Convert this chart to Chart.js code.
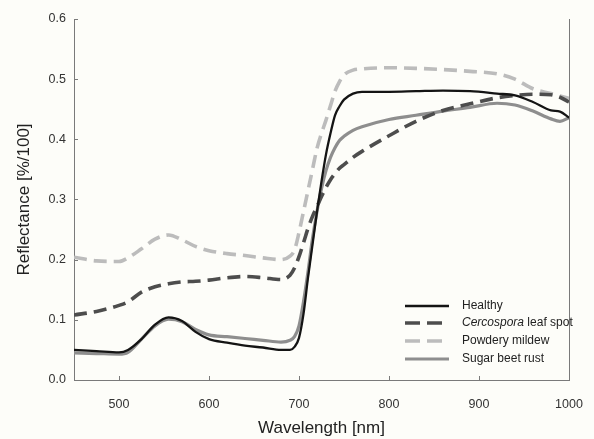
<!DOCTYPE html>
<html>
<head>
<meta charset="utf-8">
<script src="https://cdn.jsdelivr.net/npm/chart.js@4/dist/chart.umd.min.js"></script>
<style>
    html, body { margin: 0; padding: 0; background: #fdfdf9; }
    #wrap { width: 594px; height: 439px; }
</style>
</head>
<body>
<div id="wrap"><canvas id="chart" width="594" height="439"></canvas></div>
<script>
// Wavelength grid [nm]
const wavelengths = [450, 475, 500, 510, 525, 540, 555, 570, 585, 600, 620, 640, 660, 680, 690, 695,
    700, 705, 710, 715, 720, 725, 730, 735, 740, 745, 750, 760, 770, 800, 830, 860, 890, 920, 940, 960, 980, 990, 1000];

// Reflectance [%/100]
const healthy = [0.050, 0.048, 0.046, 0.050, 0.068, 0.092, 0.104, 0.098, 0.080, 0.068, 0.062, 0.057, 0.054, 0.050, 0.050, 0.055,
    0.070, 0.110, 0.170, 0.225, 0.280, 0.330, 0.375, 0.410, 0.440, 0.455, 0.466, 0.476, 0.479, 0.479, 0.480, 0.481, 0.480, 0.476, 0.473, 0.462, 0.448, 0.446, 0.436];
const cercospora = [0.108, 0.114, 0.124, 0.130, 0.146, 0.155, 0.160, 0.163, 0.164, 0.166, 0.170, 0.172, 0.170, 0.167, 0.174, 0.186,
    0.205, 0.228, 0.252, 0.272, 0.288, 0.305, 0.320, 0.333, 0.343, 0.352, 0.358, 0.370, 0.380, 0.406, 0.430, 0.448, 0.459, 0.469, 0.473, 0.475, 0.474, 0.470, 0.462];
const powderyMildew = [0.204, 0.198, 0.197, 0.203, 0.218, 0.234, 0.241, 0.233, 0.222, 0.215, 0.210, 0.207, 0.203, 0.200, 0.206, 0.216,
    0.245, 0.280, 0.315, 0.350, 0.385, 0.410, 0.432, 0.456, 0.480, 0.496, 0.507, 0.515, 0.517, 0.519, 0.518, 0.516, 0.513, 0.509, 0.500, 0.484, 0.476, 0.472, 0.468];
const beetRust = [0.045, 0.044, 0.043, 0.046, 0.068, 0.090, 0.101, 0.097, 0.084, 0.075, 0.072, 0.069, 0.066, 0.063, 0.066, 0.072,
    0.090, 0.130, 0.180, 0.235, 0.280, 0.318, 0.348, 0.370, 0.386, 0.398, 0.405, 0.415, 0.421, 0.433, 0.440, 0.447, 0.453, 0.460, 0.457, 0.447, 0.434, 0.430, 0.436];

const xTicks = [500, 600, 700, 800, 900, 1000];
const seriesLabels = ['Healthy', 'Cercospora leaf spot', 'Powdery mildew', 'Sugar beet rust'];

const FONT = '"Liberation Sans", Arial, sans-serif';
const axisColor = '#7a7a7a';

function points(values) {
    return wavelengths.map((w, i) => ({ x: w, y: values[i] }));
}

const styles = [
    { color: '#141414', width: 2.3, dash: [] },
    { color: '#4d4d4d', width: 3.6, dash: [13, 7] },
    { color: '#bcbcbc', width: 3.6, dash: [13, 7] },
    { color: '#8e8e8e', width: 3.2, dash: [] }
];

const seriesData = [healthy, cercospora, powderyMildew, beetRust];

// Inside ticks, right frame and legend
const decorPlugin = {
    id: 'decor',
    afterDraw(chart) {
        const ctx = chart.ctx;
        const area = chart.chartArea;
        const xs = chart.scales.x;
        const ys = chart.scales.y;
        ctx.save();
        ctx.strokeStyle = axisColor;
        ctx.lineWidth = 1;
        ctx.beginPath();
        ctx.moveTo(area.right + 0.5, area.top);
        ctx.lineTo(area.right + 0.5, area.bottom);
        xTicks.forEach(v => {
            const px = Math.round(xs.getPixelForValue(v)) + 0.5;
            ctx.moveTo(px, area.bottom);
            ctx.lineTo(px, area.bottom - 4);
        });
        for (let v = 0.1; v < 0.65; v += 0.1) {
            const py = Math.round(ys.getPixelForValue(v)) + 0.5;
            ctx.moveTo(area.left, py);
            ctx.lineTo(area.left + 4, py);
        }
        ctx.stroke();

        // legend
        const lx = 405, lLen = 44, tx = 462;
        const rows = [306, 323, 341, 359];
        ctx.font = '12px ' + FONT;
        ctx.textBaseline = 'middle';
        ctx.fillStyle = '#222';
        rows.forEach((ry, i) => {
            const s = styles[i];
            ctx.strokeStyle = s.color;
            ctx.lineWidth = s.width;
            ctx.setLineDash(s.dash.length ? [15, 7] : []);
            ctx.beginPath();
            ctx.moveTo(lx, ry);
            ctx.lineTo(lx + lLen, ry);
            ctx.stroke();
            ctx.setLineDash([]);
            if (i === 1) {
                ctx.font = 'italic 12px ' + FONT;
                ctx.fillText('Cercospora', tx, ry);
                const w = ctx.measureText('Cercospora').width;
                ctx.font = '12px ' + FONT;
                ctx.fillText(' leaf spot', tx + w, ry);
            } else {
                ctx.fillText(seriesLabels[i], tx, ry);
            }
        });
        ctx.restore();
    }
};

const chart = new Chart(document.getElementById('chart'), {
    type: 'line',
    data: {
        datasets: seriesData.map((vals, i) => ({
            label: seriesLabels[i],
            data: points(vals),
            borderColor: styles[i].color,
            borderWidth: styles[i].width,
            borderDash: styles[i].dash,
            pointRadius: 0,
            fill: false,
            cubicInterpolationMode: 'monotone'
        }))
    },
    options: {
        responsive: false,
        animation: false,
        layout: { padding: { top: 19, right: 25, left: 0, bottom: 0 } },
        plugins: { legend: { display: false }, tooltip: { enabled: false } },
        scales: {
            x: {
                type: 'linear',
                min: 450,
                max: 1000,
                afterBuildTicks(scale) {
                    scale.ticks = xTicks.map(v => ({ value: v }));
                },
                afterFit(scale) {
                    scale.height = 59;
                    scale.paddingLeft = 0;
                    scale.paddingRight = 0;
                },
                grid: { display: false, drawTicks: false },
                border: { display: true, color: axisColor, width: 1 },
                ticks: {
                    padding: 17,
                    color: '#333',
                    font: { family: FONT, size: 12.5 },
                    maxRotation: 0,
                    callback: v => String(v)
                },
                title: {
                    display: true,
                    text: 'Wavelength [nm]',
                    color: '#222',
                    font: { family: FONT, size: 17 },
                    padding: { top: 4, bottom: 0 }
                }
            },
            y: {
                min: 0,
                max: 0.6,
                afterFit(scale) { scale.width = 74; },
                grid: { display: false, drawTicks: false },
                border: { display: true, color: axisColor, width: 1 },
                ticks: {
                    stepSize: 0.1,
                    padding: 8,
                    color: '#333',
                    font: { family: FONT, size: 12.5 },
                    callback: v => v.toFixed(1)
                },
                title: {
                    display: true,
                    text: 'Reflectance [%/100]',
                    color: '#222',
                    font: { family: FONT, size: 17 },
                    padding: { top: 14, bottom: 0 }
                }
            }
        }
    },
    plugins: [decorPlugin]
});
</script>
</body>
</html>
